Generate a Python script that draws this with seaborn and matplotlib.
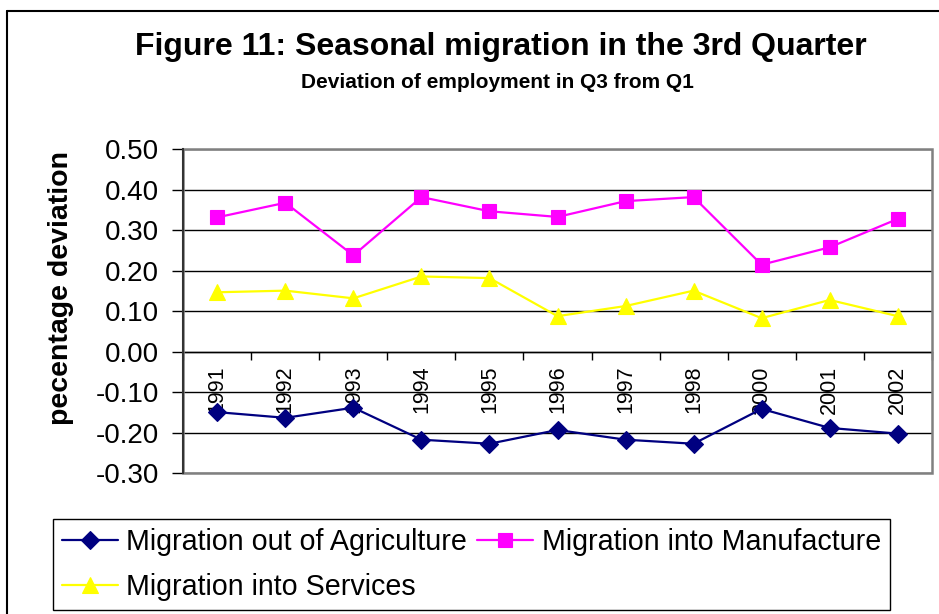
import numpy as np
import pandas as pd
import seaborn as sns
import matplotlib.pyplot as plt
from matplotlib.lines import Line2D
from matplotlib.patches import Rectangle

# ---- data ----
years = ["1991", "1992", "1993", "1994", "1995", "1996", "1997", "1998", "2000", "2001", "2002"]
agriculture = [-0.149, -0.163, -0.138, -0.217, -0.227, -0.193, -0.217, -0.227, -0.141, -0.188, -0.202]
manufacture = [0.332, 0.368, 0.238, 0.382, 0.347, 0.333, 0.372, 0.382, 0.215, 0.258, 0.328]
services = [0.147, 0.151, 0.132, 0.186, 0.182, 0.088, 0.113, 0.151, 0.083, 0.128, 0.088]
series_names = ["Migration out of Agriculture", "Migration into Manufacture", "Migration into Services"]
y_ticks = [0.50, 0.40, 0.30, 0.20, 0.10, 0.00, -0.10, -0.20, -0.30]
y_tick_labels = ["0.50", "0.40", "0.30", "0.20", "0.10", "0.00", "-0.10", "-0.20", "-0.30"]
title = "Figure 11: Seasonal migration in the 3rd Quarter"
subtitle = "Deviation of employment in Q3 from Q1"
ylabel = "pecentage deviation"

df = pd.DataFrame({
    "year": years * 3,
    "value": agriculture + manufacture + services,
    "series": [series_names[0]] * len(years) + [series_names[1]] * len(years) + [series_names[2]] * len(years),
})

colors = {series_names[0]: "#000080", series_names[1]: "#FF00FF", series_names[2]: "#FFFF00"}
markers = {series_names[0]: "D", series_names[1]: "s", series_names[2]: "^"}
msizes = {series_names[0]: 9, series_names[1]: 9.5, series_names[2]: 11}

sns.set_style("white")
plt.rcParams['font.family'] = ['Liberation Sans', 'DejaVu Sans']
plt.rcParams['text.color'] = 'black'
plt.rcParams['axes.labelcolor'] = 'black'
plt.rcParams['xtick.color'] = 'black'
plt.rcParams['ytick.color'] = 'black'

W, H = 939, 614
fig = plt.figure(figsize=(W / 100, H / 100), dpi=100)
L, R, T, B = 183.3, 931.7, 149.3, 473.3
ax = fig.add_axes([L / W, 1 - B / H, (R - L) / W, (B - T) / H])

sns.lineplot(data=df, x="year", y="value", hue="series", style="series",
             palette=colors, markers=markers, dashes=False, linewidth=1.6,
             sort=False, legend=False, ax=ax, zorder=3)

for line, name in zip(ax.lines, series_names):
    line.set_markeredgecolor(colors[name])
    line.set_markerfacecolor(colors[name])
    line.set_markersize(msizes[name])
    line.set_markeredgewidth(0.8)
    line.set_zorder(3)

ax.set_xlim(-0.5, len(years) - 0.5)
ax.set_ylim(-0.30, 0.50)
ax.set_xlabel("")
ax.set_ylabel("")

# y axis
ax.set_yticks(y_ticks)
ax.set_yticklabels(y_tick_labels, fontsize=20, color="black")
ax.tick_params(axis="y", direction="out", length=8, width=1, color="black", pad=9.5, left=True)
ax.yaxis.grid(True, color="black", linewidth=1)
ax.xaxis.grid(False)

# x axis at zero
ax.spines["bottom"].set_position(("data", 0))
ax.spines["bottom"].set_color("black")
ax.spines["bottom"].set_linewidth(1)
ax.spines["top"].set_visible(False)
ax.spines["right"].set_visible(False)
ax.spines["left"].set_color("#333333")
ax.spines["left"].set_linewidth(1.5)
ax.spines["left"].set_zorder(5)

ax.set_xticks(np.arange(-0.5, len(years), 1.0))
ax.set_xticklabels([])
ax.set_xticks(np.arange(len(years)), minor=True)
ax.set_xticklabels(years, minor=True, rotation=90, fontsize=15.5, color="black")
ax.tick_params(axis="x", which="major", direction="out", length=6, width=1, color="black", bottom=True)
ax.tick_params(axis="x", which="minor", length=0, pad=10, bottom=True)

# plot area frame
ax.add_patch(Rectangle((0, 0), 1, 1, transform=ax.transAxes, fill=False,
                       edgecolor="#808080", linewidth=1.8, clip_on=False, zorder=4))

# titles and label
fig.text(501 / W, 1 - 47 / H, title, ha="center", va="center", fontsize=23, fontweight="bold", color="black")
fig.text(497 / W, 1 - 83 / H, subtitle, ha="center", va="center", fontsize=15, fontweight="bold", color="black")
fig.text(61 / W, 1 - 288 / H, ylabel, ha="center", va="center", rotation=90, fontsize=20.5,
         fontweight="bold", color="black")

# outer chart frame (partially visible)
fig.add_artist(Line2D([7 / W, 7 / W], [0, 1 - 11 / H], transform=fig.transFigure, color="black", linewidth=1.5))
fig.add_artist(Line2D([7 / W, 1], [1 - 11 / H, 1 - 11 / H], transform=fig.transFigure, color="black", linewidth=1.5))

# legend
handles = list(ax.lines[:3])
order = [0, 2, 1]
leg = fig.legend([handles[i] for i in order], [series_names[i] for i in order], ncol=2,
                 loc="upper left", bbox_to_anchor=(53 / W, 1 - 519 / H), bbox_transform=fig.transFigure,
                 borderaxespad=0, frameon=True, fancybox=False, edgecolor="black", fontsize=20.6,
                 handlelength=1.96, handletextpad=0.29, columnspacing=0.37, borderpad=0.3,
                 labelspacing=0.62, numpoints=1)
leg.get_frame().set_linewidth(1)
leg.get_frame().set_facecolor("white")
leg.get_frame().set_alpha(1)
for t in leg.get_texts():
    t.set_color("black")

fig.savefig("out.png", dpi=100)
